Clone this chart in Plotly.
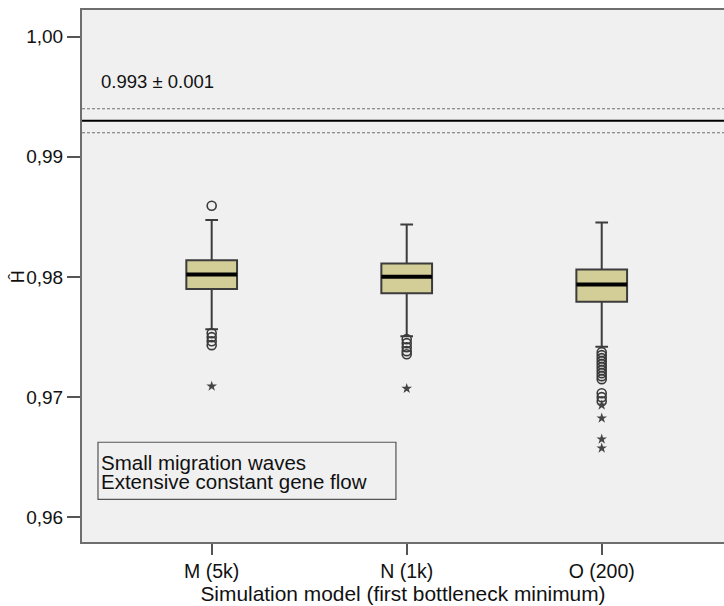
import plotly.graph_objects as go

# ---- data ----
categories = ["M (5k)", "N (1k)", "O (200)"]
cat_pos = [1, 2, 3]
q1 = [0.97898, 0.97864, 0.97792]
median = [0.98020, 0.98000, 0.97937]
q3 = [0.98139, 0.98112, 0.98062]
lower_whisker = [0.97564, 0.97506, 0.97417]
upper_whisker = [0.98473, 0.98437, 0.98453]

circ_M = [0.98592, 0.97531, 0.97498, 0.97464, 0.97431]
circ_N = [0.97481, 0.97448, 0.97414, 0.97381, 0.97356]
circ_O = [0.97373, 0.97348, 0.97323, 0.97298, 0.97273, 0.97248, 0.97223,
          0.97198, 0.97173, 0.97148, 0.97031, 0.96998, 0.96964]
star_M = [0.97089]
star_N = [0.97070]
star_O = [0.96931, 0.96823, 0.96648, 0.96573]

ref_mean = 0.993
ref_sd = 0.001
ref_label = "0.993 ± 0.001"

y_tickvals = [0.96, 0.97, 0.98, 0.99, 1.00]
y_ticktext = ["0,96", "0,97", "0,98", "0,99", "1,00"]

box_labels = ["Small migration waves", "Extensive constant gene flow"]

FONT = "Liberation Sans, Arial, sans-serif"
BOX_W = 0.26

fig = go.Figure()

for i in range(len(categories)):
    fig.add_trace(go.Box(
        x=[cat_pos[i]], q1=[q1[i]], median=[median[i]], q3=[q3[i]],
        lowerfence=[lower_whisker[i]], upperfence=[upper_whisker[i]],
        width=BOX_W, whiskerwidth=0.25, boxpoints=False,
        fillcolor="#D3CE97", line=dict(color="#3c3c3c", width=2),
        showlegend=False, hoverinfo="skip",
    ))
    # thick median line
    fig.add_trace(go.Scatter(
        x=[cat_pos[i] - BOX_W / 2, cat_pos[i] + BOX_W / 2],
        y=[median[i], median[i]], mode="lines",
        line=dict(color="black", width=4), showlegend=False, hoverinfo="skip",
    ))

circles = [circ_M, circ_N, circ_O]
stars = [star_M, star_N, star_O]
for i in range(len(categories)):
    fig.add_trace(go.Scatter(
        x=[cat_pos[i]] * len(circles[i]), y=circles[i], mode="markers",
        marker=dict(symbol="circle-open", size=9, color="#3a3a3a",
                    line=dict(width=1.6, color="#3a3a3a")),
        showlegend=False, hoverinfo="skip",
    ))
    fig.add_trace(go.Scatter(
        x=[cat_pos[i]] * len(stars[i]), y=stars[i], mode="markers",
        marker=dict(symbol="star", size=8, color="#444444"),
        showlegend=False, hoverinfo="skip",
    ))

# reference lines
fig.add_shape(type="line", xref="paper", x0=0, x1=1, y0=ref_mean, y1=ref_mean,
              line=dict(color="black", width=2))
for yv in (ref_mean + ref_sd, ref_mean - ref_sd):
    fig.add_shape(type="line", xref="paper", x0=0, x1=1, y0=yv, y1=yv,
                  line=dict(color="#707070", width=1.2, dash="3px,2px"))

fig.add_annotation(text=ref_label, xref="paper", x=0.0268, xanchor="left",
                   y=0.99625, yanchor="middle", showarrow=False,
                   font=dict(family=FONT, size=18.5, color="#111111"))

# text box
fig.add_shape(type="rect", xref="paper", yref="paper",
              x0=0.0249, x1=0.489, y0=0.0803, y1=0.1875,
              line=dict(color="#555555", width=1.2))
fig.add_annotation(text=box_labels[0], xref="paper", yref="paper", x=0.0268,
                   xanchor="left", y=0.1486, yanchor="middle", showarrow=False,
                   font=dict(family=FONT, size=20.5, color="#111111"))
fig.add_annotation(text=box_labels[1], xref="paper", yref="paper", x=0.0268,
                   xanchor="left", y=0.1128, yanchor="middle", showarrow=False,
                   font=dict(family=FONT, size=20.5, color="#111111"))

# y-axis title (rotated)
fig.add_annotation(text="Ĥ", xref="paper", x=-0.1005, xanchor="center",
                   y=0.98, yanchor="middle", textangle=-90, showarrow=False,
                   font=dict(family=FONT, size=18, color="#111111"))

fig.update_layout(
    width=724, height=606,
    margin=dict(l=82, r=0, t=10, b=64),
    paper_bgcolor="white", plot_bgcolor="#F0F0F0",
    font=dict(family=FONT, color="#111111"),
    xaxis=dict(
        range=[0.335, 3.627], tickvals=cat_pos, ticktext=categories,
        showgrid=False, zeroline=False, showline=True, mirror=True,
        linecolor="#6e6e6e", linewidth=2, ticks="outside", ticklen=11,
        tickcolor="#555555", tickwidth=1.5, tickfont=dict(size=19.5),
        title=dict(text="Simulation model (first bottleneck minimum)",
                   font=dict(size=20.9), standoff=2),
    ),
    yaxis=dict(
        range=[0.957917, 1.002225], tickvals=y_tickvals, ticktext=y_ticktext,
        showgrid=False, zeroline=False, showline=True, mirror=False,
        linecolor="#6e6e6e", linewidth=2, ticks="outside", ticklen=13,
        tickcolor="#555555", tickwidth=1.5, tickfont=dict(size=19),
    ),
)

fig.write_html(
    "out.html",
    config={"displayModeBar": False},
    post_script="document.body.style.margin='0';document.body.style.overflow='hidden';",
)
